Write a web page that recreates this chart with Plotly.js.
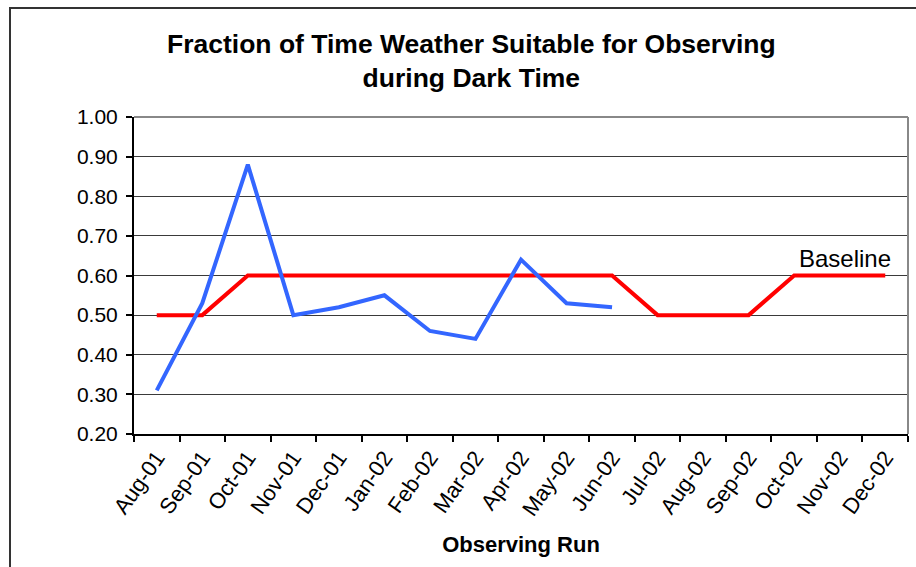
<!DOCTYPE html>
<html>
<head>
<meta charset="utf-8">
<script src="https://cdn.plot.ly/plotly-3.0.1.min.js"></script>
<style>
html,body{margin:0;padding:0;background:#fff;}
#wrap{position:relative;width:916px;height:567px;}
#chart{width:916px;height:567px;}
#frame{position:absolute;left:9px;top:7px;width:920px;height:580px;border-left:2px solid #333;border-top:2px solid #333;pointer-events:none;}
</style>
</head>
<body>
<div id="wrap"><div id="chart"></div><div id="frame"></div></div>
<script>
const months = ["Aug-01","Sep-01","Oct-01","Nov-01","Dec-01","Jan-02","Feb-02","Mar-02","Apr-02","May-02","Jun-02","Jul-02","Aug-02","Sep-02","Oct-02","Nov-02","Dec-02"];
const observed = [0.31,0.53,0.88,0.50,0.52,0.55,0.46,0.44,0.64,0.53,0.52,null,null,null,null,null,null];
const baseline = [0.50,0.50,0.60,0.60,0.60,0.60,0.60,0.60,0.60,0.60,0.60,0.50,0.50,0.50,0.60,0.60,0.60];
const yTicks = [0.2,0.3,0.4,0.5,0.6,0.7,0.8,0.9,1.0];

const font = "Liberation Sans, Arial, sans-serif";
const traces = [
  {x: months, y: baseline, type: "scatter", mode: "lines", name: "Baseline",
   line: {color: "#FF0000", width: 4}},
  {x: months, y: observed, type: "scatter", mode: "lines", name: "Observed",
   line: {color: "#3366FF", width: 4}, connectgaps: false}
];
const layout = {
  width: 916, height: 567,
  margin: {l: 134, r: 8, t: 117, b: 133},
  paper_bgcolor: "#fff", plot_bgcolor: "#fff",
  showlegend: false,
  font: {family: font, color: "#000", size: 20},
  xaxis: {
    type: "category", categoryorder: "array", categoryarray: months,
    range: [-0.5, 16.5],
    tickson: "boundaries", ticks: "outside", ticklen: 6, tickcolor: "#000", tickwidth: 2,
    showline: true, linecolor: "#000", linewidth: 2,
    showgrid: false, zeroline: false,
    tickangle: -55, tickfont: {size: 22, family: font},
    title: {text: "<b>Observing Run</b>", font: {size: 22, family: font}, standoff: 17}
  },
  yaxis: {
    range: [0.2, 1.0], tickvals: yTicks, tickformat: ".2f",
    ticks: "outside", ticklen: 6, tickcolor: "#000", tickwidth: 2,
    showline: true, linecolor: "#000", linewidth: 2,
    showgrid: true, gridcolor: "#3a3a3a", gridwidth: 1, zeroline: false,
    tickfont: {size: 21, family: font}, ticklabelstandoff: 4
  },
  shapes: [
    {type: "line", xref: "paper", yref: "paper", x0: 0, x1: 1, y0: 1, y1: 1, line: {color: "#888", width: 2}},
    {type: "line", xref: "paper", yref: "paper", x0: 1, x1: 1, y0: 0, y1: 1, line: {color: "#888", width: 2}}
  ],
  annotations: [
    {text: "<b>Fraction of Time Weather Suitable for Observing<br>during Dark Time</b>",
     xref: "paper", yref: "paper", x: (471-134)/774, y: (567-61-133)/317, xanchor: "center", yanchor: "middle",
     showarrow: false, font: {size: 26.5, family: font}},
    {text: "Baseline", xref: "x", yref: "y", x: "Nov-02", y: 0.60, xanchor: "center", yanchor: "bottom", yshift: 2, xshift: 5,
     showarrow: false, font: {size: 24, family: font}}
  ]
};
Plotly.newPlot("chart", traces, layout, {displayModeBar: false, staticPlot: true});
</script>
</body>
</html>
